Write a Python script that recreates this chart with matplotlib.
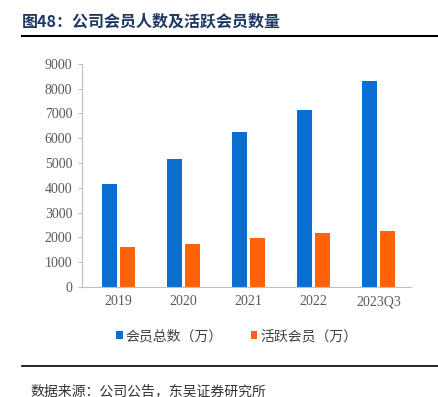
import matplotlib.pyplot as plt
import numpy as np

plt.rcParams['font.family'] = ['Noto Sans CJK SC', 'DejaVu Sans']

categories = ["2019", "2020", "2021", "2022", "2023Q3"]
total_members = [4150, 5170, 6260, 7130, 8320]
active_members = [1620, 1730, 1970, 2160, 2260]
y_ticks = [0, 1000, 2000, 3000, 4000, 5000, 6000, 7000, 8000, 9000]

fig = plt.figure(figsize=(4.39, 3.97), dpi=100)
ax = fig.add_axes([0.187, 0.277, 0.749, 0.562])

x = np.arange(len(categories))
w = 0.23
ax.bar(x - 0.142, total_members, width=w, color="#0A6FD0", label="会员总数（万）")
ax.bar(x + 0.142, active_members, width=w, color="#FF6309", label="活跃会员（万）")

ax.set_xlim(-0.56, len(categories) - 0.5)
ax.set_ylim(0, 9000)
ax.set_yticks(y_ticks)
ax.set_xticks(x)
ax.set_xticklabels(categories)
for lbl in ax.get_xticklabels() + ax.get_yticklabels():
    lbl.set_fontfamily("Liberation Serif")
    lbl.set_fontsize(10)
    lbl.set_color("#595959")

for s in ["top", "right"]:
    ax.spines[s].set_visible(False)
ax.spines["left"].set_color("#BFBFBF")
ax.spines["bottom"].set_color("#BFBFBF")
ax.tick_params(axis="y", length=3, color="#BFBFBF", pad=4)
ax.tick_params(axis="x", length=0, pad=6)

ax.legend(loc="center", bbox_to_anchor=(0.47, -0.22), ncol=2, frameon=False,
          fontsize=10, handlelength=0.5, handleheight=0.5, handletextpad=0.2,
          columnspacing=2.0, labelcolor="#404040")

# title and source
fig.text(0.05, 0.945, "图48：公司会员人数及活跃会员数量", fontsize=11.5, fontweight="bold",
         color="#1F3864", va="center")
fig.add_artist(plt.Line2D([0.05, 0.998], [0.909, 0.909], color="black", linewidth=1.5))
fig.add_artist(plt.Line2D([0.05, 0.998], [0.078, 0.078], color="black", linewidth=1.2))
fig.text(0.07, 0.014, "数据来源：公司公告，东吴证券研究所", fontsize=10, color="#333333",
         va="center")

fig.savefig("out.png", dpi=100)
